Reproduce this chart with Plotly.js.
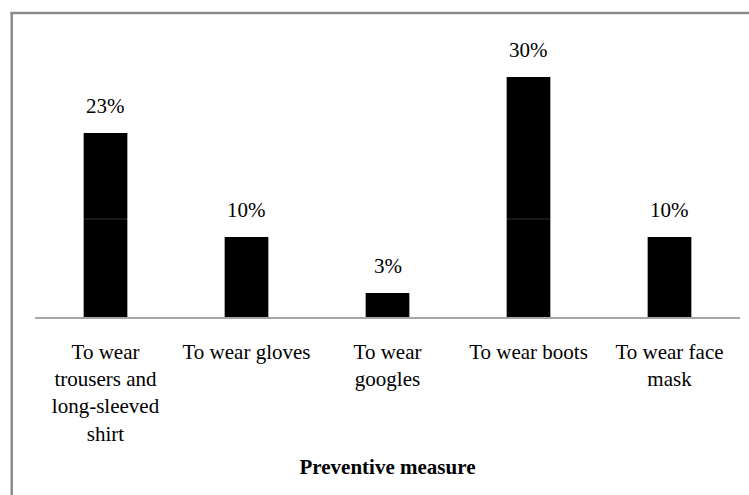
<!DOCTYPE html>
<html>
<head>
<meta charset="utf-8">
<script src="https://cdn.plot.ly/plotly-3.0.1.min.js"></script>
<style>html,body{margin:0;padding:0;background:#fff;}#chart{width:749px;height:495px;}</style>
</head>
<body>
<div id="chart"></div>
<script>
const categories = [
  "To wear<br>trousers and<br>long-sleeved<br>shirt",
  "To wear gloves",
  "To wear<br>googles",
  "To wear boots",
  "To wear face<br>mask"
];
const values = [23, 10, 3, 30, 10];
const valueLabels = ["23%", "10%", "3%", "30%", "10%"];
const xTitle = "Preventive measure";

const font = {family: "Liberation Serif, Times New Roman, serif", color: "#000"};

const trace = {
  type: "bar",
  x: categories,
  y: values,
  marker: {color: "#000", line: {width: 0}},
  width: 0.31,
  hoverinfo: "none"
};

const annotations = categories.map((c, i) => ({
  x: c, y: values[i], xref: "x", yref: "y",
  text: valueLabels[i], showarrow: false,
  yanchor: "bottom", yshift: 13,
  font: Object.assign({}, font, {size: 21})
}));

const layout = {
  width: 749, height: 495,
  margin: {l: 35, r: 9, t: 37, b: 178},
  paper_bgcolor: "#fff", plot_bgcolor: "#fff",
  showlegend: false,
  font: font,
  xaxis: {
    type: "category",
    range: [-0.5, 4.5],
    showline: true, linecolor: "#a6a6a6", linewidth: 1.5,
    ticks: "", showgrid: false, zeroline: false,
    tickfont: Object.assign({}, font, {size: 21}),
    ticklabelstandoff: 15,
    title: {text: "<b>" + xTitle + "</b>", font: Object.assign({}, font, {size: 21}), standoff: 14}
  },
  yaxis: {
    range: [0, 35],
    showticklabels: false, showgrid: false, zeroline: false, ticks: "", showline: false
  },
  annotations: annotations,
  shapes: [
    {type: "line", xref: "paper", yref: "y", x0: 0, x1: 1, y0: 12.25, y1: 12.25,
     line: {color: "rgba(255,255,255,0.2)", width: 1}, layer: "above"},
    {type: "line", xref: "paper", yref: "paper", x0: -0.033, x1: -0.033, y0: 1.086, y1: -0.7,
     line: {color: "#8a8a8a", width: 2.5}},
    {type: "line", xref: "paper", yref: "paper", x0: -0.035, x1: 1.05, y0: 1.086, y1: 1.086,
     line: {color: "#8a8a8a", width: 2.5}}
  ]
};

Plotly.newPlot("chart", [trace], layout, {displayModeBar: false, staticPlot: true});
</script>
</body>
</html>
